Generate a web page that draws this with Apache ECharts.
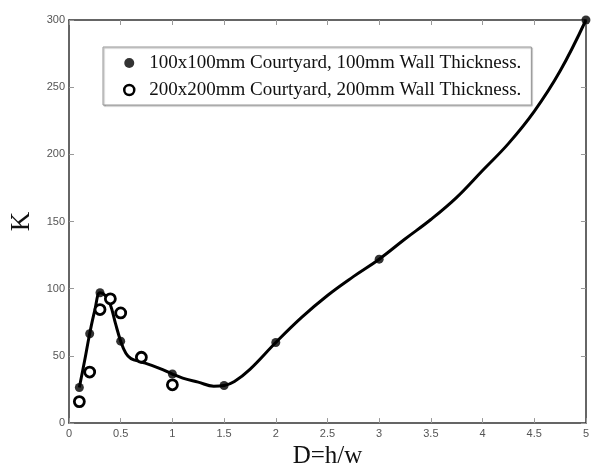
<!DOCTYPE html>
<html>
<head>
<meta charset="utf-8">
<script src="https://cdn.jsdelivr.net/npm/echarts@6/dist/echarts.min.js"></script>
<style>html,body{margin:0;padding:0;background:#fff}#c{width:592px;height:474px}</style>
</head>
<body>
<div id="c"></div>
<script>
// Data
const seriesNames = ['100x100mm Courtyard, 100mm Wall Thickness.', '200x200mm Courtyard, 200mm Wall Thickness.'];
const filledX = [0.1, 0.2, 0.3, 0.5, 1.0, 1.5, 2.0, 3.0, 5.0];
const filledK = [26.5, 66.5, 97, 61, 36.5, 28, 60, 122, 300];
const openX = [0.1, 0.2, 0.3, 0.4, 0.5, 0.7, 1.0];
const openK = [16, 38, 84.5, 92.5, 82, 49, 28.5];
const curveX = [0.1, 0.15, 0.2, 0.25, 0.3, 0.35, 0.4, 0.45, 0.5, 0.55, 0.6, 0.7, 0.8, 0.9, 1.0, 1.1, 1.25, 1.4, 1.5, 1.6, 1.75, 2.0, 2.25, 2.5, 2.75, 3.0, 3.25, 3.5, 3.75, 4.0, 4.25, 4.5, 4.75, 5.0];
const curveK = [26.5, 46, 66.5, 84, 97, 95, 88, 74, 61, 52, 48, 45.5, 43, 40, 36.5, 33.5, 30.5, 27.5, 28, 31, 40, 60, 78.7, 95, 109, 122, 137, 151.5, 168, 188, 208, 232, 262, 300];
const xTicks = ['0', '0.5', '1', '1.5', '2', '2.5', '3', '3.5', '4', '4.5', '5'];
const yTicks = ['0', '50', '100', '150', '200', '250', '300'];

const zip = (a, b) => a.map((v, i) => [v, b[i]]);
const chart = echarts.init(document.getElementById('c'), null, {renderer: 'canvas'});
const axisCol = '#333';
const labelCol = '#555';
const baseAxis = {
  axisLine: {show: true, onZero: false, lineStyle: {color: axisCol, width: 1.5}},
  axisTick: {show: true, inside: true, length: 5, lineStyle: {color: '#999', width: 1}},
  splitLine: {show: false}
};
chart.setOption({
  animation: false,
  backgroundColor: '#fff',
  grid: {left: 66, right: 2, top: 20, bottom: 42},
  legend: {
    left: 103, top: 47, orient: 'vertical',
    padding: [5, 10, 4, 20],
    itemGap: 5,
    itemWidth: 10, itemHeight: 10,
    backgroundColor: '#fff',
    borderColor: '#999', borderWidth: 1,
    shadowColor: 'rgba(0,0,0,0.3)', shadowOffsetX: 1, shadowOffsetY: 1, shadowBlur: 1,
    textStyle: {fontFamily: 'Liberation Serif', fontSize: 19, color: '#111', padding: [0, 0, 0, 10], lineHeight: 22},
    data: [
      {name: seriesNames[0], icon: 'circle', itemStyle: {color: '#000', borderWidth: 0}},
      {name: seriesNames[1], icon: 'circle', itemStyle: {color: '#fff', borderColor: '#000', borderWidth: 2.5}}
    ]
  },
  xAxis: [
    Object.assign({}, baseAxis, {
      type: 'value', min: 0, max: 5, interval: 0.5, position: 'bottom',
      axisLabel: {color: labelCol, fontFamily: 'Liberation Sans', fontSize: 11, margin: 5,
        formatter: v => xTicks[Math.round(v / 0.5)]},
      name: 'D=h/w', nameLocation: 'middle', nameGap: 19,
      nameTextStyle: {fontFamily: 'Liberation Serif', fontSize: 25, color: '#111'}
    }),
    Object.assign({}, baseAxis, {
      type: 'value', min: 0, max: 5, interval: 0.5, position: 'top',
      axisLabel: {show: false}
    })
  ],
  yAxis: [
    Object.assign({}, baseAxis, {
      type: 'value', min: 0, max: 300, interval: 50, position: 'left',
      axisLabel: {color: labelCol, fontFamily: 'Liberation Sans', fontSize: 11, margin: 4,
        formatter: v => yTicks[Math.round(v / 50)]},
      name: 'K', nameLocation: 'middle', nameGap: 34, nameRotate: 90,
      nameTextStyle: {fontFamily: 'Liberation Serif', fontSize: 27, color: '#111'}
    }),
    Object.assign({}, baseAxis, {
      type: 'value', min: 0, max: 300, interval: 50, position: 'right',
      axisLabel: {show: false}
    })
  ],
  series: [
    {
      name: 'curve', type: 'line', data: zip(curveX, curveK), smooth: 0.4,
      showSymbol: false, symbol: 'none', lineStyle: {color: '#000', width: 3},
      z: 2, silent: true
    },
    {
      name: seriesNames[0], type: 'scatter', data: zip(filledX, filledK),
      symbol: 'circle', symbolSize: 9, itemStyle: {color: '#000'}, z: 3
    },
    {
      name: seriesNames[1], type: 'scatter', data: zip(openX, openK),
      symbol: 'circle', symbolSize: 10, itemStyle: {color: '#fff', borderColor: '#000', borderWidth: 2.8, opacity: 1}, z: 4
    }
  ]
});
</script>
</body>
</html>
